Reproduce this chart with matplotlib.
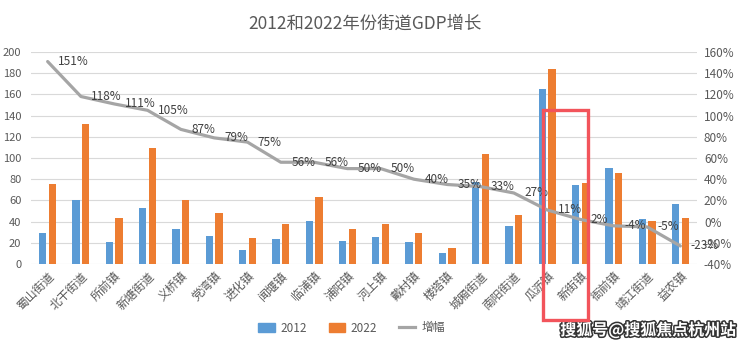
import matplotlib
matplotlib.use("Agg")
import matplotlib.pyplot as plt
import matplotlib.patheffects as pe
from matplotlib.patches import Rectangle
from matplotlib.lines import Line2D
import numpy as np

plt.rcParams['font.family'] = ['Noto Sans CJK SC', 'DejaVu Sans']

# values
streets = ["蜀山街道", "北干街道", "所前镇", "新塘街道", "义桥镇", "党湾镇", "进化镇",
           "闻堰镇", "临浦镇", "浦阳镇", "河上镇", "戴村镇", "楼塔镇", "城厢街道",
           "南阳街道", "瓜沥镇", "新街镇", "衙前镇", "靖江街道", "益农镇"]
gdp_2012 = [29.5, 60, 20.7, 53, 32.7, 26.7, 13.5, 23.5, 40.6, 21.7,
            25.2, 20.8, 10.4, 77.6, 36.1, 165.5, 74.7, 90.4, 42.7, 56.5]
gdp_2022 = [75.4, 131.9, 43.3, 109.3, 60, 47.7, 24.5, 37.7, 63.2, 32.7,
            37.7, 28.9, 15.1, 104.2, 46.5, 183.7, 76.3, 86.3, 40.2, 43]
growth = [151, 118, 111, 105, 87, 79, 75, 56, 56, 50,
          50, 40, 35, 33, 27, 11, 2, -4, -5, -23]

BLUE = "#5B9BD5"
ORANGE = "#ED7D31"
GREY = "#A5A5A5"
TXT = "#595959"

fig = plt.figure(figsize=(7.4, 3.46), dpi=100)
ax = fig.add_axes([31 / 740, 1 - 264 / 346, 666 / 740, 212 / 346])
ax2 = ax.twinx()

x = np.arange(len(streets))
ax.bar(x - 0.145, gdp_2012, width=0.22, color=BLUE, zorder=2)
ax.bar(x + 0.145, gdp_2022, width=0.22, color=ORANGE, zorder=2)

ax.set_xlim(-0.5, len(streets) - 0.5)
ax.set_ylim(0, 200)
ax.set_yticks(np.arange(0, 201, 20))
ax.grid(axis="y", color="#D9D9D9", linewidth=0.8, zorder=0)
ax.set_axisbelow(True)
ax.set_xticks(x)
ax.set_xticklabels(streets, rotation=45, ha="right", rotation_mode="anchor",
                   fontsize=8.5, color=TXT)
ax.tick_params(axis="both", length=0, colors=TXT, labelsize=8.5)
ax.tick_params(axis="y", pad=7, labelsize=8)
ax.tick_params(axis="x", pad=4)

ax2.plot(x, growth, color=GREY, linewidth=2.3, solid_joinstyle="round",
         solid_capstyle="round", zorder=3)
ax2.set_ylim(-40, 160)
ax2.set_yticks(np.arange(-40, 161, 20))
ax2.set_yticklabels([f"{v}%" for v in range(-40, 161, 20)])
ax2.tick_params(axis="y", length=0, colors=TXT, labelsize=8.5, pad=5)
for i, g in enumerate(growth):
    ax2.annotate(f"{g}%", (i, g), xytext=(7.5, 0), textcoords="offset points",
                 ha="left", va="center", fontsize=8.5, color="#404040", zorder=4)

for a in (ax, ax2):
    for s in a.spines.values():
        s.set_visible(False)

fig.text(0.493, 1 - 24 / 346, "2012和2022年份街道GDP增长", ha="center", va="center",
         fontsize=12.5, color=TXT)

handles = [Rectangle((0, 0), 1, 1, color=BLUE), Rectangle((0, 0), 1, 1, color=ORANGE),
           Line2D([0], [0], color=GREY, linewidth=2.3)]
fig.legend(handles, ["2012", "2022", "增幅"], loc="center", ncol=3,
           bbox_to_anchor=(0.475, 1 - 328 / 346), frameon=False, fontsize=8.5,
           labelcolor=TXT, handlelength=1.4, handleheight=0.8, columnspacing=1.8,
           handletextpad=0.5)

# red highlight box around 新街镇
fig.patches.append(Rectangle((543 / 740, 1 - 320 / 346), 45 / 740, 210 / 346,
                             transform=fig.transFigure, fill=False,
                             edgecolor="#F2545B", linewidth=2.4, zorder=10))

# watermark
fig.text(0.995, 1 - 330 / 346, "搜狐号@搜狐焦点杭州站", ha="right", va="center",
         fontsize=11.5, color="white", fontweight="bold",
         path_effects=[pe.withStroke(linewidth=2.2, foreground="#333333")])

fig.savefig("out.png", dpi=100)
